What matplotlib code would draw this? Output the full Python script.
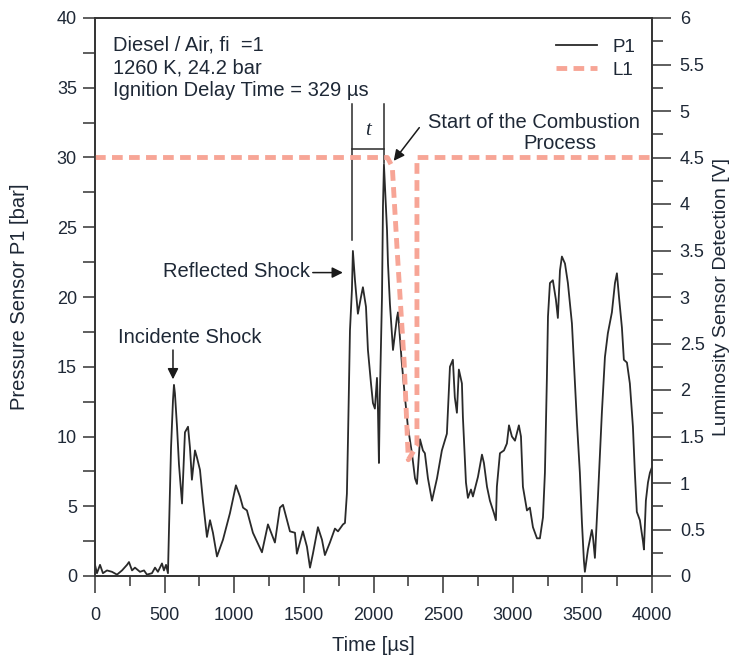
import matplotlib
matplotlib.use("Agg")
import matplotlib.pyplot as plt
from matplotlib.ticker import MultipleLocator, FormatStrFormatter
from matplotlib.lines import Line2D

plt.rcParams["font.family"] = ["Liberation Sans", "DejaVu Sans"]

# P1 pressure trace (time in us, pressure in bar)
time_p1 = [0, 14, 36, 57, 86, 122, 158, 194, 230, 244, 266, 287, 323, 352, 373, 409,
           431, 452, 481, 495, 510, 524, 531, 546, 560, 567, 574, 589, 603, 625, 639,
           646, 668, 682, 696, 718, 732, 754, 775, 804, 826, 847, 876, 919, 969, 1012,
           1041, 1063, 1091, 1134, 1199, 1242, 1292, 1328, 1350, 1379, 1400, 1436, 1450,
           1493, 1522, 1544, 1565, 1601, 1630, 1651, 1687, 1723, 1745, 1781, 1795, 1809,
           1817, 1824, 1831, 1845, 1852, 1867, 1888, 1910, 1924, 1946, 1960, 1982, 1996,
           2010, 2025, 2032, 2039, 2046, 2061, 2068, 2075, 2082, 2097, 2104, 2118, 2140,
           2168, 2176, 2190, 2204, 2226, 2247, 2276, 2298, 2312, 2334, 2355, 2369, 2391,
           2420, 2456, 2491, 2527, 2549, 2570, 2584, 2599, 2613, 2635, 2642, 2664, 2678,
           2700, 2714, 2750, 2779, 2793, 2815, 2836, 2865, 2879, 2886, 2908, 2937, 2958,
           2973, 2994, 3016, 3044, 3059, 3073, 3102, 3123, 3145, 3174, 3195, 3217, 3231,
           3245, 3253, 3267, 3288, 3310, 3324, 3339, 3353, 3375, 3396, 3425, 3461, 3482,
           3497, 3511, 3518, 3540, 3568, 3576, 3590, 3612, 3640, 3662, 3683, 3712, 3734,
           3748, 3763, 3784, 3798, 3820, 3841, 3863, 3877, 3891, 3913, 3935, 3942, 3956,
           3971, 3985, 4000]
pressure_p1 = [0.8, 0.2, 0.8, 0.2, 0.4, 0.3, 0.1, 0.4, 0.8, 1.0, 0.4, 0.6, 0.3, 0.4, 0.1, 0.2,
               0.6, 0.3, 0.9, 0.4, 0.8, 0.2, 3.2, 9.2, 12.6, 13.7, 13.1, 10.7, 8.0, 5.2, 8.5,
               10.3, 10.7, 9.2, 6.9, 9.0, 8.5, 7.6, 5.4, 2.8, 4.0, 3.1, 1.4, 2.6, 4.5, 6.5,
               5.7, 4.9, 4.7, 3.1, 1.7, 3.7, 2.4, 4.9, 5.1, 4.0, 3.2, 3.1, 1.6,
               3.2, 2.1, 0.6, 1.6, 3.5, 2.6, 1.5, 2.4, 3.4, 3.2, 3.7, 3.8, 5.9,
               9.9, 13.8, 17.6, 20.5, 23.3, 21.2, 18.8, 20.0, 20.7, 19.3, 16.2, 13.8, 12.4,
               12.0, 14.2, 11.9, 8.1, 13.0, 20.0, 26.5, 29.5, 28.0, 24.8, 22.4, 19.5, 16.2,
               18.5, 18.9, 17.1, 15.2, 12.8, 10.7, 8.8, 7.0, 6.6, 9.8, 9.0, 8.8, 7.0,
               5.4, 7.0, 9.0, 10.2, 15.0, 15.5, 12.8, 11.7, 14.8, 13.8, 11.4, 6.7, 5.6,
               6.2, 5.7, 7.1, 8.7, 8.1, 6.4, 5.4, 4.5, 4.0, 6.4, 8.8, 9.0, 9.5,
               10.8, 10.0, 9.7, 10.8, 10.0, 6.4, 4.7, 4.9, 3.5, 2.7, 2.7, 4.2, 7.4,
               14.1, 18.6, 21.0, 21.2, 19.8, 18.5, 21.9, 22.9, 22.4, 21.0, 18.1, 11.0, 7.4,
               3.8, 1.1, 0.3, 1.9, 3.3, 2.8, 1.3, 5.7, 11.7, 15.7, 17.4, 18.9, 21.0,
               21.7, 20.0, 17.8, 15.5, 15.3, 13.8, 10.7, 7.4, 4.6, 4.0, 2.5, 1.9, 5.4,
               6.7, 7.4, 7.8]

# L1 luminosity trace (time in us, voltage in V)
time_l1 = [0, 2100, 2135, 2170, 2220, 2250, 2312, 2312, 4000]
volt_l1 = [4.5, 4.5, 4.4, 3.5, 2.3, 1.25, 1.4, 4.5, 4.5]

txt_color = "#1e2836"
line_color = "#2a2a2a"
dash_color = "#f7a596"

fig = plt.figure(figsize=(7.35, 6.6), dpi=100)
ax = fig.add_axes([95 / 735, 84 / 660, 557 / 735, 558 / 660])
ax2 = ax.twinx()

ax.plot(time_p1, pressure_p1, color=line_color, lw=1.3, zorder=3)
ax2.plot(time_l1, volt_l1, color=dash_color, lw=3.5, linestyle=(0, (2.2, 1.3)), zorder=2)

ax.set_xlim(0, 4000)
ax.set_ylim(0, 40)
ax2.set_ylim(0, 6)

ax.xaxis.set_major_locator(MultipleLocator(500))
ax.xaxis.set_minor_locator(MultipleLocator(250))
ax.yaxis.set_major_locator(MultipleLocator(5))
ax.yaxis.set_minor_locator(MultipleLocator(2.5))
ax2.yaxis.set_major_locator(MultipleLocator(0.5))
ax2.yaxis.set_minor_locator(MultipleLocator(0.25))
ax2.yaxis.set_major_formatter(FormatStrFormatter("%g"))

for a in (ax, ax2):
    for s in a.spines.values():
        s.set_color("#333333")
        s.set_linewidth(1.2)
    a.tick_params(which="both", direction="out", colors="#333333", labelcolor=txt_color,
                  labelsize=13, width=1.1)
ax.tick_params(axis="x", which="major", length=12, pad=10)
ax.tick_params(axis="x", which="minor", length=7)
ax.tick_params(axis="y", which="major", length=9, pad=4)
ax.tick_params(axis="y", which="minor", length=9)
ax2.tick_params(axis="y", which="major", length=14, pad=6)
ax2.tick_params(axis="y", which="minor", length=8)

ax.set_xlabel("Time [\u00b5s]", fontsize=14.5, color=txt_color, labelpad=9)
ax.set_ylabel("Pressure Sensor P1 [bar]", fontsize=14.5, color=txt_color, labelpad=20)
ax2.set_ylabel("Luminosity Sensor Detection [V]", fontsize=14, color=txt_color, labelpad=6)

# info block
info = ["Diesel / Air, fi  =1", "1260 K, 24.2 bar", "Ignition Delay Time = 329 \u00b5s"]
for i, s in enumerate(info):
    ax.text(130, 38.1 - i * 1.65, s, fontsize=14.5, color=txt_color, va="center", ha="left")

# ignition delay bracket
ax.plot([1845, 1845], [24.1, 33.8], color=line_color, lw=1.1, zorder=4)
ax.plot([2075, 2075], [29.6, 33.8], color=line_color, lw=1.1, zorder=4)
ax.plot([1845, 2075], [30.6, 30.6], color=line_color, lw=1.1, zorder=4)
ax.text(1960, 31.9, "t", fontsize=15, fontstyle="italic", family="Liberation Serif",
        color=txt_color, ha="center", va="center")

# annotations
arrow = dict(arrowstyle="-|>", color="#1a1a1a", lw=1.1, mutation_scale=16)
ax.text(2391, 32.5, "Start of the Combustion", fontsize=14.5, color=txt_color, va="center")
ax.text(3075, 31.0, "Process", fontsize=14.5, color=txt_color, va="center")
ax.annotate("", xy=(2133, 29.6), xytext=(2341, 32.3), arrowprops=arrow)

ax.text(1544, 21.8, "Reflected Shock", fontsize=14.5, color=txt_color, va="center", ha="right")
ax.annotate("", xy=(1800, 21.75), xytext=(1544, 21.75), arrowprops=arrow)

ax.text(165, 17.1, "Incidente Shock", fontsize=14.5, color=txt_color, va="center", ha="left")
ax.annotate("", xy=(560, 13.9), xytext=(560, 16.4), arrowprops=arrow)

handles = [Line2D([], [], color=line_color, lw=1.3),
           Line2D([], [], color=dash_color, lw=3.5, linestyle=(0, (2.2, 1.3)))]
leg = ax.legend(handles, ["P1", "L1"], loc="upper right", bbox_to_anchor=(1.0, 0.993),
                frameon=False, fontsize=13.5, handlelength=2.2, labelspacing=0.3)
for t in leg.get_texts():
    t.set_color(txt_color)

fig.savefig("out.png", dpi=100)
